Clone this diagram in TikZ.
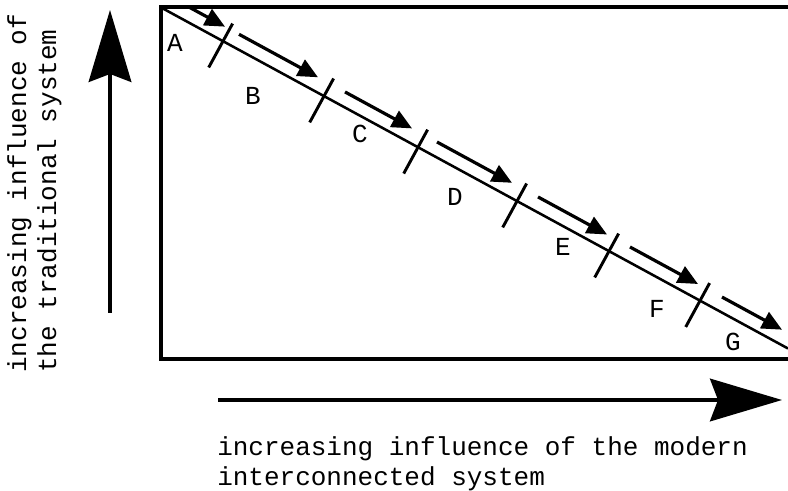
\documentclass[tikz,border=0pt]{standalone}
\usepackage{fontspec}
\setmonofont{Liberation Mono}
\usetikzlibrary{arrows.meta,calc}
\begin{document}
\begin{tikzpicture}[x=0.75pt,y=-0.75pt,
  lbl/.style={font=\ttfamily\fontsize{19.5}{22.5}\selectfont, inner sep=0pt},
  frame/.style={line width=2.6pt},
  diag/.style={line width=1.9pt},
  flow/.style={line width=2.4pt, -{Triangle[length=15pt,width=13.5pt]}},
  tickmark/.style={line width=2.2pt},
  axis/.style={line width=2.4pt, -{Stealth[length=54pt,width=32pt,inset=6pt]}}
]
\useasboundingbox (0,0) rectangle (788,491);
% frame
\coordinate (f1) at (788,7);
\coordinate (f2) at (161,7);
\coordinate (f3) at (161,359);
\coordinate (f4) at (788,359);
\draw[frame] (f1) -- (f2) -- (f3) -- (f4);
% diagonal
\coordinate (O) at (162,8);
\coordinate (E) at (788,348.5);
\draw[diag] (O) -- (E);
% ticks
\foreach \x [count=\i] in {223,324,418,517,609,700} {
  \coordinate (t\i) at (\x, {8+0.544*(\x-162)});
  \draw[tickmark] ($(t\i)+(9.6,-17.6)$) -- ($(t\i)+(-14.3,26.3)$);
}
% flow arrows
\foreach \a/\b [count=\i] in {190/225,239/318,345/412,437/512,538/607,630/698,722/782} {
  \coordinate (s\i) at (\a, {8+0.544*(\a-162)-15.6});
  \coordinate (e\i) at (\b, {8+0.544*(\b-162)-15.6});
  \draw[flow] (s\i) -- (e\i);
}
% stage labels
\node[lbl] (A) at (175,43) {A};
\node[lbl] (B) at (253,96) {B};
\node[lbl] (C) at (360,134) {C};
\node[lbl] (D) at (455,197) {D};
\node[lbl] (Elbl) at (563,247) {E};
\node[lbl] (F) at (657,309) {F};
\node[lbl] (G) at (733,342) {G};
% axes
\coordinate (ya) at (110,313);
\coordinate (yb) at (110,10);
\draw[axis] (ya) -- (yb);
\coordinate (xa) at (218,400);
\coordinate (xb) at (782,400);
\draw[axis] (xa) -- (xb);
% axis labels
\node[lbl, anchor=north west, align=left] (xl) at (217,436)
  {increasing influence of the modern\\interconnected system};
\node[lbl, rotate=90, anchor=north west, align=left] (yl) at (7,373)
  {increasing influence of\\the traditional system};
\end{tikzpicture}
\end{document}
